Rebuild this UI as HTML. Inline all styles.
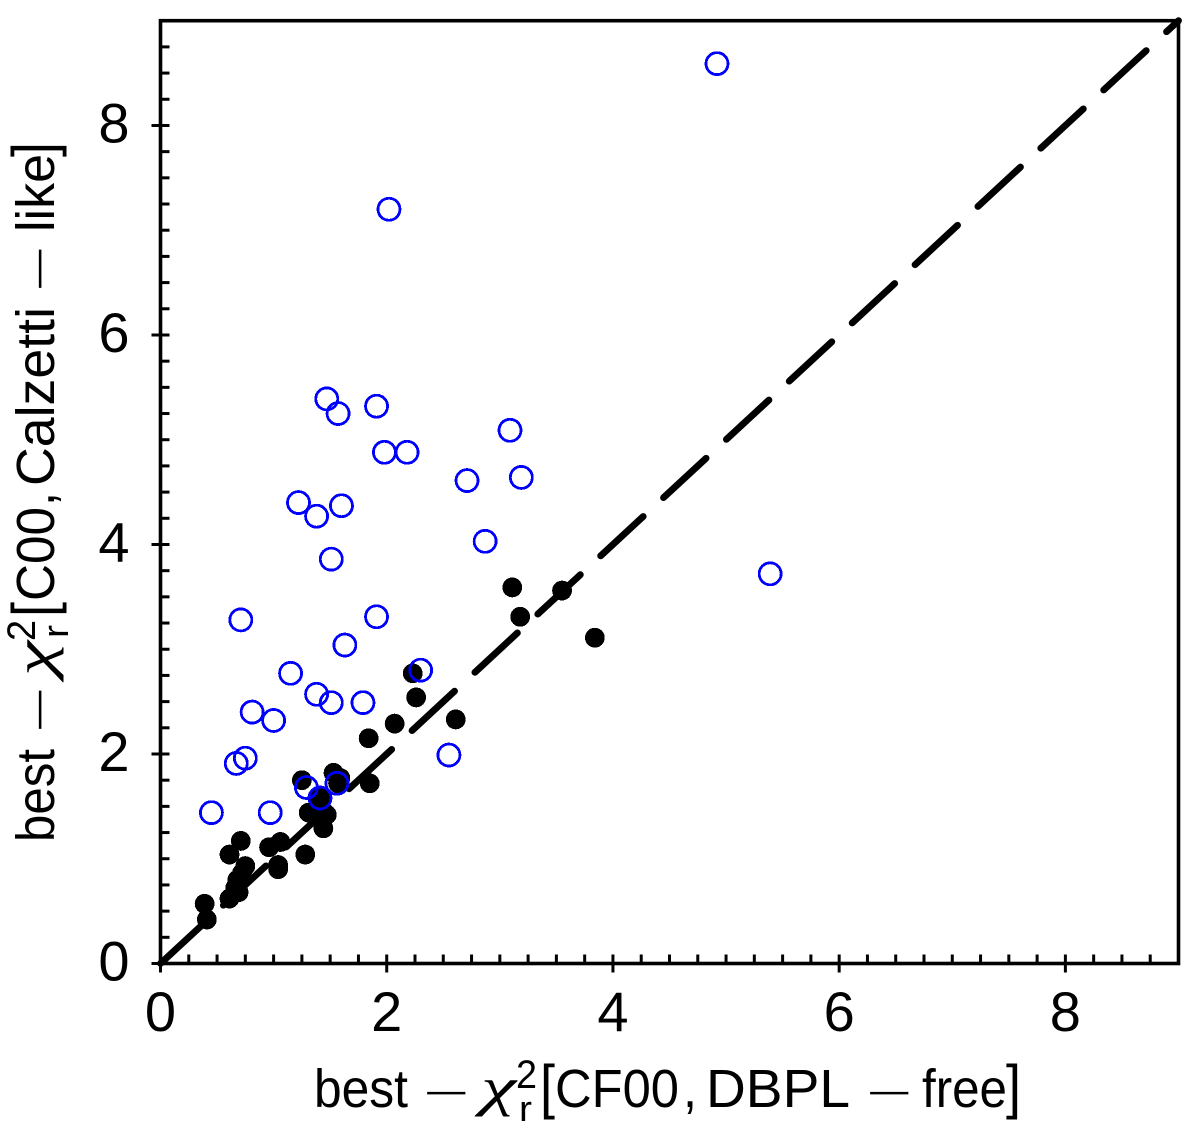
<!DOCTYPE html>
<html lang="en">
<head>
<meta charset="utf-8">
<title>Best reduced chi-squared comparison</title>
<style>
html,body{margin:0;padding:0;background:#fff;}
#chart{display:block;width:1200px;height:1132px;}
text{font-family:"Liberation Sans",sans-serif;fill:#000;}
.serif{font-family:"Liberation Serif",serif;font-style:italic;}
</style>
</head>
<body>
<svg id="chart" xmlns="http://www.w3.org/2000/svg" width="1200" height="1132" viewBox="0 0 1200 1132">
  <rect width="1200" height="1132" fill="#fff"/>
  <g id="marks"></g>
  <g id="axes"></g>

  <g transform="translate(314,1107)">
    <text x="0" y="0" font-size="54" textLength="94" lengthAdjust="spacingAndGlyphs">best</text>
    <text x="109" y="-2" font-size="36" textLength="46" lengthAdjust="spacingAndGlyphs">−</text>
    <text class="serif" x="167" y="-2" font-size="54" textLength="35" lengthAdjust="spacingAndGlyphs">χ</text>
    <text x="202" y="-19" font-size="40" textLength="21" lengthAdjust="spacingAndGlyphs">2</text>
    <text x="205" y="14" font-size="36" textLength="13" lengthAdjust="spacingAndGlyphs">r</text>
    <text x="226" y="0" font-size="60" textLength="15" lengthAdjust="spacingAndGlyphs">[</text>
    <text x="241" y="0" font-size="54" textLength="124" lengthAdjust="spacingAndGlyphs">CF00</text>
    <text x="369" y="0" font-size="54" textLength="14" lengthAdjust="spacingAndGlyphs">,</text>
    <text x="392" y="0" font-size="54" textLength="144" lengthAdjust="spacingAndGlyphs">DBPL</text>
    <text x="552" y="-2" font-size="36" textLength="46" lengthAdjust="spacingAndGlyphs">−</text>
    <text x="608" y="0" font-size="54" textLength="85" lengthAdjust="spacingAndGlyphs">free</text>
    <text x="692" y="0" font-size="60" textLength="15" lengthAdjust="spacingAndGlyphs">]</text>
  </g>

  <g transform="translate(54,842) rotate(-90)">
    <text x="0" y="0" font-size="54" textLength="93" lengthAdjust="spacingAndGlyphs">best</text>
    <text x="109" y="-2" font-size="36" textLength="46" lengthAdjust="spacingAndGlyphs">−</text>
    <text class="serif" x="166" y="-2" font-size="54" textLength="35" lengthAdjust="spacingAndGlyphs">χ</text>
    <text x="201" y="-19" font-size="40" textLength="21" lengthAdjust="spacingAndGlyphs">2</text>
    <text x="204" y="14" font-size="36" textLength="13" lengthAdjust="spacingAndGlyphs">r</text>
    <text x="225" y="0" font-size="60" textLength="15" lengthAdjust="spacingAndGlyphs">[</text>
    <text x="241" y="0" font-size="54" textLength="94" lengthAdjust="spacingAndGlyphs">C00</text>
    <text x="336" y="0" font-size="54" textLength="14" lengthAdjust="spacingAndGlyphs">,</text>
    <text x="356" y="0" font-size="54" textLength="179" lengthAdjust="spacingAndGlyphs">Calzetti</text>
    <text x="550" y="-2" font-size="36" textLength="46" lengthAdjust="spacingAndGlyphs">−</text>
    <text x="610" y="0" font-size="54" textLength="78" lengthAdjust="spacingAndGlyphs">like</text>
    <text x="685" y="0" font-size="60" textLength="15" lengthAdjust="spacingAndGlyphs">]</text>
  </g>
</svg>
<script>
const xTickLabels = [0, 2, 4, 6, 8];
const yTickLabels = [0, 2, 4, 6, 8];
const minorStep = 0.25;
const axisMax = 9;
const refLineX = [0, 9];
const refLineY = [0, 9];

const blackX = [0.39,0.41,0.71,0.61,0.75,0.72,0.68,0.66,0.61,0.69,0.96,1.06,1.04,1.04,1.28,1.25,1.53,1.59,1.57,1.41,1.41,1.85,1.31,1.47,1.44,1.41,1.84,2.07,2.23,2.26,2.61,3.11,3.18,3.55,3.84];
const blackY = [0.57,0.42,1.17,1.04,0.93,0.86,0.80,0.72,0.62,0.68,1.11,1.16,0.94,0.90,1.04,1.75,1.82,1.77,1.72,1.58,1.53,1.72,1.44,1.42,1.29,1.40,2.15,2.29,2.77,2.54,2.33,3.59,3.31,3.56,3.11];

const blueX = [4.92,2.02,1.47,1.57,1.91,1.98,2.18,3.09,2.71,3.19,1.22,1.38,1.60,2.87,1.51,5.39,0.71,1.91,1.63,1.15,2.30,1.38,1.51,1.79,0.81,1.00,2.55,0.75,0.67,0.45,0.97,1.29,1.41,1.56];
const blueY = [8.59,7.20,5.39,5.25,5.32,4.88,4.88,5.09,4.61,4.64,4.40,4.27,4.37,4.03,3.86,3.72,3.28,3.31,3.04,2.77,2.80,2.57,2.49,2.49,2.40,2.32,1.99,1.96,1.91,1.44,1.44,1.68,1.58,1.72];

const NS = 'http://www.w3.org/2000/svg';
const left = 160.5, right = 1178.5, top_ = 20.7, bottom = 963.5;
const sx = v => left + (right - left) * v / axisMax;
const sy = v => bottom - (bottom - top_) * v / axisMax;
const marks = document.getElementById('marks');
const axes = document.getElementById('axes');

function make(tag, attrs, parent) {
  const el = document.createElementNS(NS, tag);
  for (const k in attrs) el.setAttribute(k, attrs[k]);
  parent.appendChild(el);
  return el;
}

const refLine = make('line', {x1: sx(refLineX[0]), y1: sy(refLineY[0]), x2: sx(refLineX[1]), y2: sy(refLineY[1]), stroke: '#000', 'stroke-width': 6.8, 'stroke-linecap': 'round', 'stroke-dasharray': '58 27.7'}, marks);



blackX.forEach((x, i) => {
  const dot = make('circle', {cx: sx(x), cy: sy(blackY[i]), r: 9.9, fill: '#000', 'shape-rendering': 'crispEdges'}, marks);
  
  
});

blueX.forEach((x, i) => {
  const ring = make('circle', {cx: sx(x), cy: sy(blueY[i]), r: 11, fill: 'none', stroke: '#0000ff', 'stroke-width': 2.8, 'shape-rendering': 'crispEdges'}, marks);
  
  
});

const frame = make('rect', {x: left, y: top_, width: right - left, height: bottom - top_, fill: 'none', stroke: '#000', 'stroke-width': 3.6}, axes);



const minorCount = Math.round(axisMax / minorStep);
for (let i = 1; i < minorCount; i++) {
  const v = i * minorStep;
  if (Number.isInteger(v / 2)) continue;
  const mx = make('line', {x1: sx(v), x2: sx(v), y1: bottom, y2: bottom - 9, stroke: '#000', 'stroke-width': 3}, axes);
  
  
  const my = make('line', {x1: left, x2: left + 9, y1: sy(v), y2: sy(v), stroke: '#000', 'stroke-width': 3}, axes);
  
  
}

xTickLabels.forEach(v => {
  const t = make('line', {x1: sx(v), x2: sx(v), y1: bottom - 9, y2: bottom + 9, stroke: '#000', 'stroke-width': 3}, axes);
  
  
  const l = make('text', {x: sx(v), y: 1031, 'font-size': 56, 'text-anchor': 'middle'}, axes);
  l.textContent = v;
  
  
});

yTickLabels.forEach(v => {
  const t = make('line', {x1: left - 9, x2: left + 9, y1: sy(v), y2: sy(v), stroke: '#000', 'stroke-width': 3}, axes);
  
  
  const l = make('text', {x: 114, y: sy(v) + 17, 'font-size': 56, 'text-anchor': 'middle'}, axes);
  l.textContent = v;
  
  
});
</script>
</body>
</html>
